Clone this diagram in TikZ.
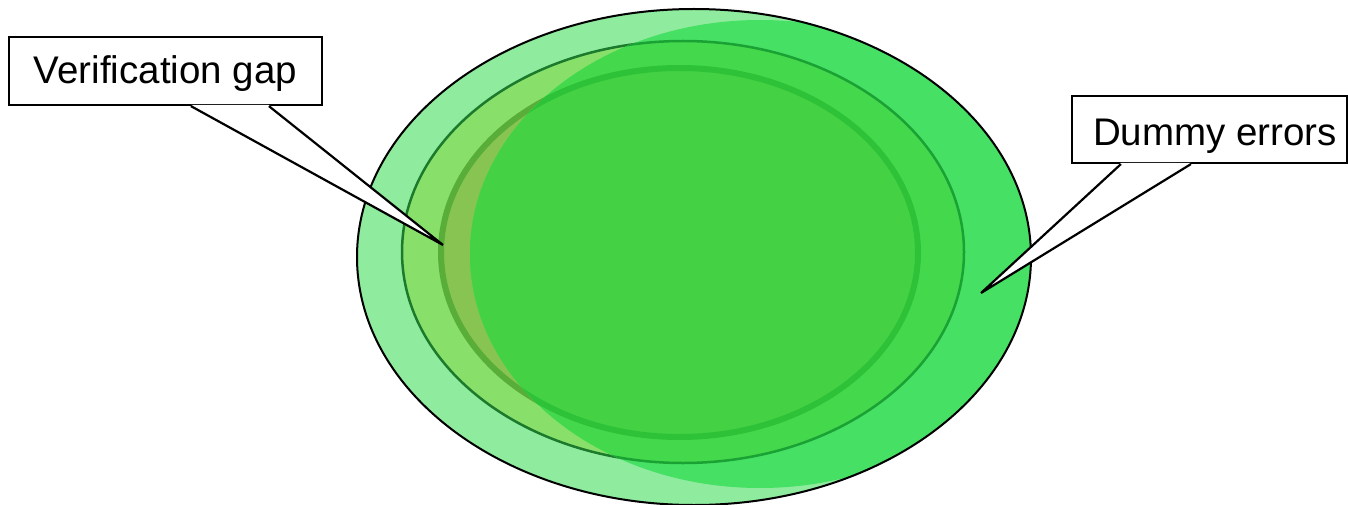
\documentclass[tikz,border=0pt]{standalone}
\usepackage{fontspec}
\setmainfont{Liberation Sans}
\usetikzlibrary{calc}
\definecolor{outerlight}{HTML}{8FEB9E}
\definecolor{outerdark}{HTML}{46E064}
\definecolor{midlight}{HTML}{88E06A}
\definecolor{middark}{HTML}{44D84C}
\definecolor{midlinelight}{HTML}{1C7A2C}
\definecolor{midlinedark}{HTML}{1AA234}
\definecolor{innerlight}{HTML}{88C452}
\definecolor{innerdark}{HTML}{44D244}
\definecolor{innerlinelight}{HTML}{58AE38}
\definecolor{innerlinedark}{HTML}{2EC238}
\tikzset{
  labelbox/.style={rectangle, draw=black, fill=white, line width=2.2pt,
    inner sep=0pt, font=\fontsize{38.5}{46}\selectfont, text depth=8pt},
  wedgeline/.style={draw=black, line width=2.2pt, line join=miter},
  outerell/.style={x radius=337pt, y radius=248pt},
  midell/.style={x radius=281pt, y radius=211pt},
  innerell/.style={x radius=238.5pt, y radius=184.5pt},
  overell/.style={x radius=290pt, y radius=234pt}
}
\begin{document}
\begin{tikzpicture}[x=1pt,y=-1pt]
\useasboundingbox (0,0) rectangle (1348,505);
% light layer
\fill[outerlight] (694,257) ellipse [outerell];
\filldraw[fill=midlight, draw=midlinelight, line width=2.5pt] (683,252) ellipse [midell];
\filldraw[fill=innerlight, draw=innerlinelight, line width=6pt] (679.5,252.5) ellipse [innerell];
% darker overlay region
\begin{scope}
  \clip (694,257) ellipse [outerell];
  \clip (760,254) ellipse [overell];
  \fill[outerdark] (694,257) ellipse [outerell];
  \filldraw[fill=middark, draw=midlinedark, line width=2.5pt] (683,252) ellipse [midell];
  \filldraw[fill=innerdark, draw=innerlinedark, line width=6pt] (679.5,252.5) ellipse [innerell];
\end{scope}
\draw[black, line width=2pt] (694,257) ellipse [outerell];
% callouts
\coordinate (gaptip) at (443,245);
\coordinate (dummytip) at (981,293);
\node[labelbox, text height=33pt, minimum width=313pt, minimum height=68pt] (gap) at (165.5,71) {Verification gap};
\node[labelbox, text height=40pt, minimum width=275pt, minimum height=67pt] (dummy) at (1209.5,129.5) {\hspace*{11pt}Dummy errors};
% wedge of the first callout
\coordinate (ga) at ($(gap.south west)+(183,0)$);
\coordinate (gb) at ($(gap.south west)+(261,0)$);
\fill[white] ($(ga)+(0,-1.3)$) -- (gaptip) -- ($(gb)+(0,-1.3)$) -- cycle;
\draw[wedgeline] (ga) -- (gaptip) -- (gb);
% wedge of the second callout
\coordinate (da) at ($(dummy.south west)+(50,0)$);
\coordinate (db) at ($(dummy.south west)+(120,0)$);
\fill[white] ($(da)+(0,-1.3)$) -- (dummytip) -- ($(db)+(0,-1.3)$) -- cycle;
\draw[wedgeline] (da) -- (dummytip) -- (db);
\end{tikzpicture}
\end{document}
